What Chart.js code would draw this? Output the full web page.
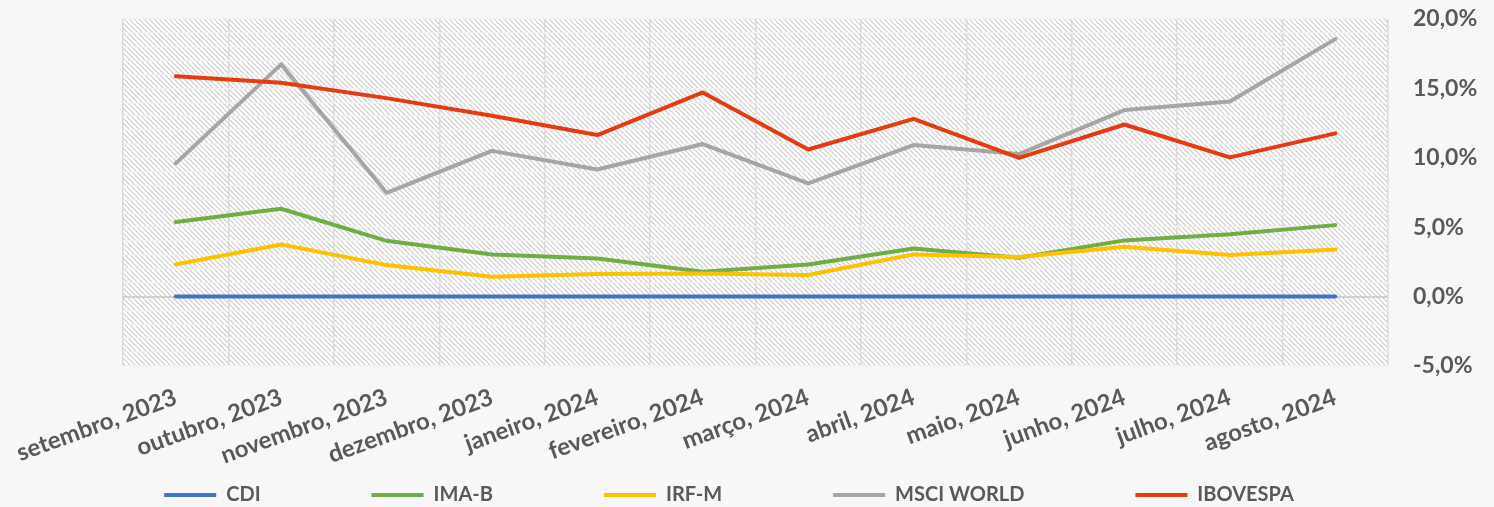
<!DOCTYPE html>
<html>
<head>
<meta charset="utf-8">
<script src="https://cdn.jsdelivr.net/npm/chart.js@4.4.1/dist/chart.umd.min.js"></script>
<style>
    html, body { margin: 0; padding: 0; background: #f7f7f7; }
    #wrap { width: 1494px; height: 507px; }
</style>
</head>
<body>
<div id="wrap"><canvas id="chart" width="1494" height="507"></canvas></div>
<script>
const months = ['setembro, 2023', 'outubro, 2023', 'novembro, 2023', 'dezembro, 2023',
    'janeiro, 2024', 'fevereiro, 2024', 'março, 2024', 'abril, 2024',
    'maio, 2024', 'junho, 2024', 'julho, 2024', 'agosto, 2024'];

const cdi       = [0, 0, 0, 0, 0, 0, 0, 0, 0, 0, 0, 0];
const imaB      = [5.37, 6.33, 4.02, 3.04, 2.75, 1.79, 2.32, 3.47, 2.80, 4.05, 4.50, 5.15];
const irfM      = [2.32, 3.76, 2.27, 1.43, 1.62, 1.67, 1.55, 3.04, 2.85, 3.59, 2.99, 3.40];
const msciWorld = [9.60, 16.73, 7.48, 10.50, 9.16, 10.99, 8.15, 10.92, 10.27, 13.44, 14.06, 18.55];
const ibovespa  = [15.88, 15.40, 14.30, 13.03, 11.64, 14.71, 10.60, 12.81, 10.00, 12.40, 10.03, 11.76];

// labelled ticks on the right axis
const yLabels = [-5, 0, 5, 10, 15, 20];

const textColor = '#595959';
const fontFamily = 'Lato, "Open Sans", sans-serif';

// diagonal hatch behind the plot
const hatchBg = {
    id: 'hatchBg',
    beforeDraw(chart) {
        const {ctx, chartArea} = chart;
        const tile = document.createElement('canvas');
        tile.width = 5; tile.height = 5;
        const g = tile.getContext('2d');
        g.fillStyle = '#ffffff';
        g.fillRect(0, 0, 5, 5);
        g.strokeStyle = '#cdcdcd';
        g.lineWidth = 1.2;
        g.beginPath();
        g.moveTo(-1, -1); g.lineTo(6, 6);
        g.moveTo(-6, -1); g.lineTo(1, 6);
        g.moveTo(4, -1); g.lineTo(11, 6);
        g.stroke();
        ctx.save();
        ctx.fillStyle = ctx.createPattern(tile, 'repeat');
        ctx.fillRect(chartArea.left, chartArea.top, chartArea.right - chartArea.left, chartArea.bottom - chartArea.top);
        ctx.restore();
    }
};

function series(label, data, color, order) {
    return {
        label: label,
        data: data,
        borderColor: color,
        backgroundColor: color,
        borderWidth: 4,
        borderCapStyle: 'round',
        borderJoinStyle: 'round',
        pointRadius: 0,
        tension: 0,
        fill: false,
        order: order
    };
}

new Chart(document.getElementById('chart'), {
    type: 'line',
    data: {
        labels: months,
        datasets: [
            series('CDI', cdi, '#4472C4', 5),
            series('IMA-B', imaB, '#70AD47', 4),
            series('IRF-M', irfM, '#FFC000', 3),
            series('MSCI WORLD', msciWorld, '#A5A5A5', 2),
            series('IBOVESPA', ibovespa, '#E53B12', 1)
        ]
    },
    options: {
        responsive: false,
        animation: false,
        devicePixelRatio: 1,
        layout: {
            padding: { top: 19, right: 8, bottom: -8, left: -28 }
        },
        plugins: {
            tooltip: { enabled: false },
            legend: {
                position: 'bottom',
                labels: {
                    usePointStyle: true,
                    pointStyle: 'line',
                    pointStyleWidth: 52,
                    boxWidth: 52,
                    padding: 21,
                    color: textColor,
                    font: { family: fontFamily, size: 20, weight: 'bold' },
                    sort: (a, b) => a.datasetIndex - b.datasetIndex,
                    generateLabels(chart) {
                        const items = Chart.defaults.plugins.legend.labels.generateLabels(chart);
                        const last = chart.data.datasets.length - 1;
                        items.forEach(it => {
                            if (it.datasetIndex !== last) it.text = it.text + '\u2003'.repeat(6);
                        });
                        return items;
                    }
                }
            }
        },
        scales: {
            x: {
                offset: true,
                grid: {
                    offset: true,
                    color: '#d9d9d9',
                    lineWidth: 1.5,
                    drawTicks: false
                },
                border: { display: false },
                ticks: {
                    autoSkip: false,
                    minRotation: 20,
                    maxRotation: 20,
                    padding: 17,
                    color: textColor,
                    font: { family: fontFamily, size: 24, weight: 'bold' }
                },
                afterFit(scale) {
                    scale.height = 98;
                    scale.paddingLeft = 123;
                    scale.paddingRight = 0;
                }
            },
            y: {
                position: 'right',
                min: -5,
                max: 20,
                grid: {
                    color: ctx => ctx.tick && ctx.tick.value === 0 ? '#d0d0d0' : '#f1f1f1',
                    lineWidth: ctx => ctx.tick && ctx.tick.value === 0 ? 2 : 1.5,
                    drawTicks: false
                },
                border: { display: false },
                ticks: {
                    stepSize: 1,
                    autoSkip: false,
                    padding: 25,
                    color: textColor,
                    font: { family: fontFamily, size: 23, weight: 'bold' },
                    callback: v => yLabels.includes(v) ? v.toFixed(1).replace('.', ',') + '%' : ''
                },
                afterFit(scale) {
                    scale.width = 98;
                    scale.paddingTop = 0;
                    scale.paddingBottom = 0;
                }
            }
        }
    },
    plugins: [hatchBg]
});
</script>
</body>
</html>
